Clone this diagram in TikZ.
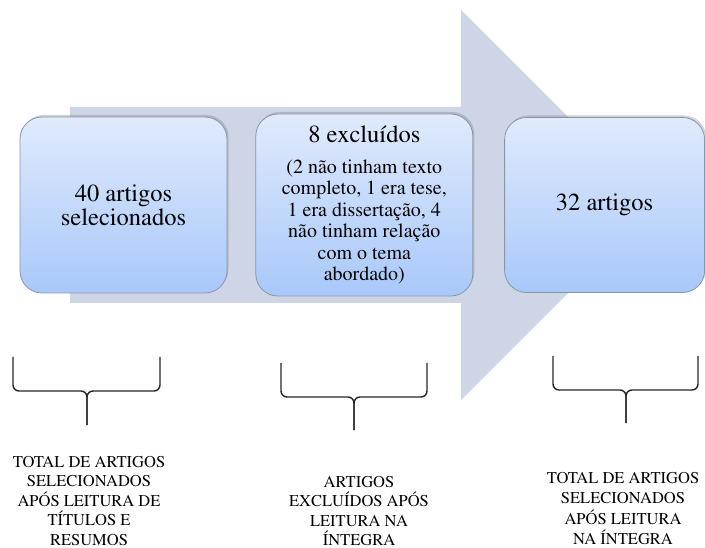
\documentclass[tikz,border=0pt]{standalone}
\usepackage[T1]{fontenc}
\usepackage{mathptmx}
\usetikzlibrary{positioning,shadows}
\definecolor{arrowgray}{HTML}{CED5E6}
\definecolor{boxtop}{HTML}{E0EAFC}
\definecolor{boxbot}{HTML}{A8C8FA}
\definecolor{boxline}{HTML}{8A96A8}
\tikzstyle{artbox}=[rectangle, rounded corners=22pt, draw=boxline, line width=0.8pt,
                    top color=boxtop, bottom color=boxbot, inner sep=2pt,
                    align=center, text=black,
                    drop shadow={shadow xshift=1.5pt, shadow yshift=2pt, opacity=0.35}]
\tikzstyle{bigtxt}=[font=\fontsize{24.5}{24}\selectfont]
\tikzstyle{captxt}=[inner sep=0pt, align=center, font=\fontsize{16.5}{19.5}\selectfont]
\tikzstyle{bracel}=[line width=1.4pt, draw=black!85, rounded corners=6pt]

\begin{document}
\begin{tikzpicture}[x=1pt,y=-1pt]
\useasboundingbox (0,0) rectangle (705,548);

\fill[arrowgray] (70,107) -- (461,107) -- (461,10) -- (656,205) -- (461,400) -- (461,303) -- (70,303) -- cycle;

\node (SEL) [artbox, bigtxt, minimum width=207pt, minimum height=176pt] at (123.5,205)
 {40 artigos\\selecionados};
\node (EXC) [artbox, minimum width=217pt, minimum height=182pt, right=28pt of SEL,
 font=\fontsize{20}{21.5}\selectfont]
 {{\fontsize{24.5}{24}\selectfont 8 excluídos}\\[9pt]
 (2 não tinham texto\\completo, 1 era tese,\\1 era dissertação, 4\\não tinham relação\\com o tema\\abordado)};
\node (FIN) [artbox, bigtxt, minimum width=200pt, minimum height=175pt, right=31pt of EXC]
 {32 artigos};

\coordinate (B1L) at (13,357);  \coordinate (B1C) at (87,391);  \coordinate (B1T) at (87,425);  \coordinate (B1R) at (160,357);
\coordinate (B2L) at (281,363); \coordinate (B2C) at (354,397); \coordinate (B2T) at (354,430); \coordinate (B2R) at (427,363);
\coordinate (B3L) at (553,356); \coordinate (B3C) at (626,390); \coordinate (B3T) at (626,423); \coordinate (B3R) at (698,356);
 \draw[bracel] (B1L) |- (B1C) -- (B1T);
 \draw[bracel] (B1R) |- (B1C) -- (B1T);
 \draw[bracel] (B2L) |- (B2C) -- (B2T);
 \draw[bracel] (B2R) |- (B2C) -- (B2T);
 \draw[bracel] (B3L) |- (B3C) -- (B3T);
 \draw[bracel] (B3R) |- (B3C) -- (B3T);

\node (TXTSEL) [captxt, anchor=north] at (89,456)
 {TOTAL DE ARTIGOS\\SELECIONADOS\\APÓS LEITURA DE\\TÍTULOS E\\RESUMOS};
\node (TXTEXC) [captxt, anchor=north] at (359,476)
 {ARTIGOS\\EXCLUÍDOS APÓS\\LEITURA NA\\ÍNTEGRA};
\node (TXTFIN) [captxt, anchor=north, font=\fontsize{16.5}{20.5}\selectfont] at (623,472)
 {TOTAL DE ARTIGOS\\SELECIONADOS\\APÓS LEITURA\\NA ÍNTEGRA};

\end{tikzpicture}
\end{document}
